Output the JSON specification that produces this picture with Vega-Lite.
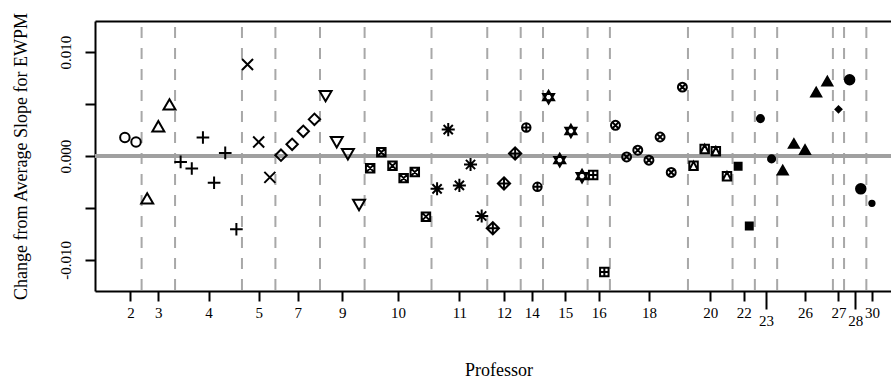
{
  "$schema": "https://vega.github.io/schema/vega-lite/v6.json",
  "width": 796,
  "height": 270,
  "autosize": {"type": "none"},
  "padding": {"left": 95, "top": 21, "right": 0, "bottom": 88},
  "background": "white",
  "config": {"view": {"stroke": null}},
  "datasets": {
    "pts": [
      {"idx": 1, "prof": 2, "v": 0.00178},
      {"idx": 2, "prof": 2, "v": 0.00135},
      {"idx": 3, "prof": 3, "v": -0.00408},
      {"idx": 4, "prof": 3, "v": 0.00286},
      {"idx": 5, "prof": 3, "v": 0.00497},
      {"idx": 6, "prof": 4, "v": -0.00057},
      {"idx": 7, "prof": 4, "v": -0.0012},
      {"idx": 8, "prof": 4, "v": 0.00178},
      {"idx": 9, "prof": 4, "v": -0.00258},
      {"idx": 10, "prof": 4, "v": 0.0003},
      {"idx": 11, "prof": 4, "v": -0.00705},
      {"idx": 12, "prof": 5, "v": 0.00881},
      {"idx": 13, "prof": 5, "v": 0.00135},
      {"idx": 14, "prof": 5, "v": -0.00206},
      {"idx": 15, "prof": 7, "v": 0.00008},
      {"idx": 16, "prof": 7, "v": 0.00113},
      {"idx": 17, "prof": 7, "v": 0.00238},
      {"idx": 18, "prof": 7, "v": 0.00353},
      {"idx": 19, "prof": 9, "v": 0.00577},
      {"idx": 20, "prof": 9, "v": 0.00132},
      {"idx": 21, "prof": 9, "v": 0.00017},
      {"idx": 22, "prof": 9, "v": -0.00472},
      {"idx": 23, "prof": 10, "v": -0.00117},
      {"idx": 24, "prof": 10, "v": 0.00036},
      {"idx": 25, "prof": 10, "v": -0.00095},
      {"idx": 26, "prof": 10, "v": -0.00213},
      {"idx": 27, "prof": 10, "v": -0.00155},
      {"idx": 28, "prof": 10, "v": -0.00584},
      {"idx": 29, "prof": 11, "v": -0.00316},
      {"idx": 30, "prof": 11, "v": 0.00254},
      {"idx": 31, "prof": 11, "v": -0.00283},
      {"idx": 32, "prof": 11, "v": -0.00082},
      {"idx": 33, "prof": 11, "v": -0.00578},
      {"idx": 34, "prof": 12, "v": -0.00696},
      {"idx": 35, "prof": 12, "v": -0.00264},
      {"idx": 36, "prof": 12, "v": 0.00024},
      {"idx": 37, "prof": 14, "v": 0.00274},
      {"idx": 38, "prof": 14, "v": -0.00297},
      {"idx": 39, "prof": 15, "v": 0.00567},
      {"idx": 40, "prof": 15, "v": -0.0004},
      {"idx": 41, "prof": 15, "v": 0.00241},
      {"idx": 42, "prof": 15, "v": -0.00194},
      {"idx": 43, "prof": 16, "v": -0.00184},
      {"idx": 44, "prof": 16, "v": -0.01118},
      {"idx": 45, "prof": 18, "v": 0.00296},
      {"idx": 46, "prof": 18, "v": -0.00009},
      {"idx": 47, "prof": 18, "v": 0.00056},
      {"idx": 48, "prof": 18, "v": -0.0004},
      {"idx": 49, "prof": 18, "v": 0.00183},
      {"idx": 50, "prof": 18, "v": -0.00158},
      {"idx": 51, "prof": 18, "v": 0.00663},
      {"idx": 52, "prof": 20, "v": -0.00095},
      {"idx": 53, "prof": 20, "v": 0.00068},
      {"idx": 54, "prof": 20, "v": 0.00046},
      {"idx": 55, "prof": 20, "v": -0.00194},
      {"idx": 56, "prof": 22, "v": -0.00098},
      {"idx": 57, "prof": 22, "v": -0.00674},
      {"idx": 58, "prof": 23, "v": 0.0036},
      {"idx": 59, "prof": 23, "v": -0.00028},
      {"idx": 60, "prof": 26, "v": -0.00136},
      {"idx": 61, "prof": 26, "v": 0.0012},
      {"idx": 62, "prof": 26, "v": 0.00062},
      {"idx": 63, "prof": 26, "v": 0.00615},
      {"idx": 64, "prof": 26, "v": 0.00721},
      {"idx": 65, "prof": 27, "v": 0.00449},
      {"idx": 66, "prof": 28, "v": 0.00734},
      {"idx": 67, "prof": 28, "v": -0.00316},
      {"idx": 68, "prof": 30, "v": -0.00456}
    ],
    "bounds": [
      {"b": 2.5}, {"b": 5.5}, {"b": 11.5}, {"b": 14.5}, {"b": 18.5}, {"b": 22.5},
      {"b": 28.5}, {"b": 33.5}, {"b": 36.5}, {"b": 38.5}, {"b": 42.5}, {"b": 44.5},
      {"b": 51.5}, {"b": 55.5}, {"b": 57.5}, {"b": 59.5}, {"b": 64.5}, {"b": 65.5}, {"b": 67.5}
    ]
  },
  "resolve": {"axis": {"x": "independent"}},
  "layer": [
    {
      "data": {"name": "bounds"},
      "mark": {"type": "rule", "color": "#a8a8a8", "strokeWidth": 2, "strokeDash": [11, 10], "strokeDashOffset": 15},
      "encoding": {
        "x": {
          "field": "b", "type": "quantitative",
          "scale": {"domain": [-1.68, 69.71], "nice": false, "zero": false},
          "axis": {"orient": "top", "labels": false, "ticks": false, "grid": false, "title": null, "domain": true, "domainColor": "black", "domainWidth": 2}
        }
      }
    },
    {
      "data": {"name": "bounds"},
      "mark": {"type": "rule", "color": "#a0a0a0", "strokeWidth": 3.5},
      "encoding": {
        "y": {
          "datum": 0, "type": "quantitative",
          "scale": {"domain": [-0.013, 0.013], "nice": false, "zero": false},
          "axis": {
            "values": [-0.01, -0.005, 0, 0.005, 0.01],
            "labelExpr": "datum.value < -0.009 ? '-0.010' : datum.value > 0.009 ? '0.010' : datum.value == 0 ? '0.000' : ''",
            "grid": false, "domainColor": "black", "domainWidth": 2,
            "tickColor": "black", "tickWidth": 2, "tickSize": 10,
            "labelAngle": 270, "labelAlign": "center", "labelBaseline": "alphabetic", "labelPadding": 15,
            "labelFont": "Liberation Serif", "labelFontSize": 15, "labelColor": "black", "labelOverlap": false, "labelBound": false, "labelFlush": false,
            "title": "Change from Average Slope for EWPM", "titleFont": "Liberation Serif", "titleFontSize": 18, "titleFontWeight": "normal", "titleColor": "black",
            "titleAngle": 270, "titleBaseline": "alphabetic", "titleX": -69
          }
        }
      }
    },
    {
      "data": {"name": "pts"},
      "mark": {"type": "point", "filled": true, "opacity": 1, "stroke": "black", "strokeWidth": 2},
      "encoding": {
        "x": {
          "field": "idx", "type": "quantitative",
          "scale": {"domain": [-1.68, 69.71], "nice": false, "zero": false},
          "axis": {
            "orient": "bottom",
            "values": [1.5, 4, 8.5, 13, 16.5, 20.5, 25.5, 31, 35, 37.5, 40.5, 43.5, 48, 53.5, 56.5, 58.5, 62, 65, 66.5, 68],
            "labelExpr": "['2','3','4','5','7','9','10','11','12','14','15','16','18','20','22','23','26','27','28','30'][indexof([1.5,4,8.5,13,16.5,20.5,25.5,31,35,37.5,40.5,43.5,48,53.5,56.5,58.5,62,65,66.5,68], datum.value)]",
            "grid": false, "domainColor": "black", "domainWidth": 2,
            "tickColor": "black", "tickWidth": 2,
            "tickSize": {"condition": {"test": "datum.value == 58.5 || datum.value == 66.5", "value": 18}, "value": 10},
            "labelPadding": 4, "labelFont": "Liberation Serif", "labelFontSize": 15, "labelColor": "black",
            "labelOverlap": false, "labelBound": false, "labelFlush": false,
            "title": "Professor", "titleFont": "Liberation Serif", "titleFontSize": 18, "titleFontWeight": "normal", "titleColor": "black",
            "titleX": 403.5, "titleY": 84, "titleBaseline": "alphabetic", "titleAlign": "center", "titleAnchor": null
          }
        },
        "y": {
          "field": "v", "type": "quantitative",
          "scale": {"domain": [-0.013, 0.013], "nice": false, "zero": false},
          "axis": {
            "values": [-0.01, -0.005, 0, 0.005, 0.01],
            "labelExpr": "datum.value < -0.009 ? '-0.010' : datum.value > 0.009 ? '0.010' : datum.value == 0 ? '0.000' : ''",
            "grid": false, "domainColor": "black", "domainWidth": 2,
            "tickColor": "black", "tickWidth": 2, "tickSize": 10,
            "labelAngle": 270, "labelAlign": "center", "labelBaseline": "alphabetic", "labelPadding": 15,
            "labelFont": "Liberation Serif", "labelFontSize": 15, "labelColor": "black", "labelOverlap": false, "labelBound": false, "labelFlush": false,
            "title": "Change from Average Slope for EWPM", "titleFont": "Liberation Serif", "titleFontSize": 18, "titleFontWeight": "normal", "titleColor": "black",
            "titleAngle": 270, "titleBaseline": "alphabetic", "titleX": -69
          }
        },
        "shape": {
          "field": "prof", "type": "nominal", "legend": null,
          "scale": {
            "domain": [2, 3, 4, 5, 7, 9, 10, 11, 12, 14, 15, 16, 18, 20, 22, 23, 26, 27, 28, 30],
            "range": [
              "circle",
              "triangle-up",
              "M-1,0H1M0,-1V1",
              "M-1,-1L1,1M-1,1L1,-1",
              "diamond",
              "triangle-down",
              "M-1,-1H1V1H-1ZM-1,-1L1,1M-1,1L1,-1",
              "M-1,0H1M0,-1V1M-0.707,-0.707L0.707,0.707M-0.707,0.707L0.707,-0.707",
              "M0,-1L1,0L0,1L-1,0ZM-1,0H1M0,-1V1",
              "M1,0A1,1,0,1,1,-1,0A1,1,0,1,1,1,0ZM-1,0H1M0,-1V1",
              "M0,-1L0.866,0.5L-0.866,0.5ZM0,1L0.866,-0.5L-0.866,-0.5Z",
              "M-1,-1H1V1H-1ZM-1,0H1M0,-1V1",
              "M1,0A1,1,0,1,1,-1,0A1,1,0,1,1,1,0ZM-0.707,-0.707L0.707,0.707M-0.707,0.707L0.707,-0.707",
              "M-1,-1H1V1H-1ZM-1,1L0,-1L1,1",
              "square",
              "circle",
              "triangle-up",
              "diamond",
              "circle",
              "circle"
            ]
          }
        },
        "fill": {
          "field": "prof", "type": "nominal", "legend": null,
          "scale": {
            "type": "ordinal",
            "domain": [2, 3, 4, 5, 7, 9, 10, 11, 12, 14, 15, 16, 18, 20, 22, 23, 26, 27, 28, 30],
            "range": ["transparent", "transparent", "transparent", "transparent", "transparent", "transparent", "transparent", "transparent", "transparent", "transparent", "transparent", "transparent", "transparent", "transparent", "black", "black", "black", "black", "black", "black"]
          }
        },
        "size": {
          "field": "prof", "type": "nominal", "legend": null,
          "scale": {
            "type": "ordinal",
            "domain": [2, 3, 4, 5, 7, 9, 10, 11, 12, 14, 15, 16, 18, 20, 22, 23, 26, 27, 28, 30],
            "range": [90, 144, 160, 121, 130, 144, 72, 170, 150, 72, 160, 72, 80, 72, 48, 50, 100, 36, 90, 28]
          }
        }
      }
    }
  ]
}
